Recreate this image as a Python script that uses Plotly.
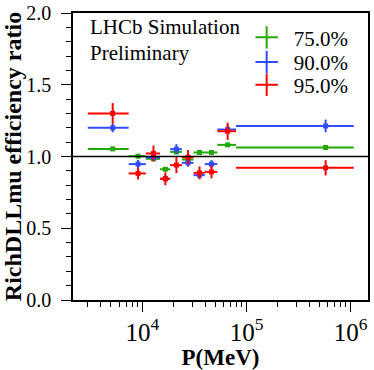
import numpy as np
import plotly.graph_objects as go

# momentum bin edges (MeV)
bin_edges = [3000, 7400, 10800, 14800, 18500, 24000, 31000, 39800, 52500, 79400, 1070000]

labels = ['75.0%', '90.0%', '95.0%']
colors = ['#22a800', '#2f4dff', '#ff0000']

ratio_75 = [1.053, 1.002, 0.984, 0.911, 1.032, 0.979, 1.028, 1.028, 1.081, 1.063]
err_75 = [0.012, 0.012, 0.012, 0.012, 0.012, 0.012, 0.012, 0.012, 0.012, 0.012]
ratio_90 = [1.200, 0.947, 0.993, 0.845, 1.051, 0.956, 0.870, 0.947, 1.188, 1.213]
err_90 = [0.031, 0.030, 0.025, 0.025, 0.035, 0.028, 0.022, 0.028, 0.030, 0.044]
ratio_95 = [1.300, 0.882, 1.021, 0.845, 0.940, 0.995, 0.886, 0.893, 1.176, 0.921]
err_95 = [0.072, 0.042, 0.055, 0.045, 0.055, 0.050, 0.045, 0.045, 0.060, 0.053]

edges = np.array(bin_edges, dtype=float)
centers = (edges[1:] + edges[:-1]) / 2
halfw = (edges[1:] - edges[:-1]) / 2

SERIF = 'Liberation Serif'

fig = go.Figure()

# one small legend per entry so the rows can sit closer than plotly's default spacing
legend_ids = ['legend', 'legend2', 'legend3']
legend_y = [0.914, 0.828, 0.749]

series = [(ratio_75, err_75), (ratio_90, err_90), (ratio_95, err_95)]
for (vals, errs), name, col, lid in zip(series, labels, colors, legend_ids):
    fig.add_trace(go.Scatter(
        x=centers, y=vals, mode='markers', name=name, showlegend=False,
        marker=dict(symbol='square', size=5, color=col),
        error_x=dict(type='data', array=halfw, color=col, thickness=2, width=0),
        error_y=dict(type='data', array=errs, color=col, thickness=2, width=0),
    ))
    # legend entry drawn as a cross like the error bars
    fig.add_trace(go.Scatter(
        x=[None], y=[None], mode='markers', name=name, legend=lid,
        marker=dict(symbol='cross-thin', size=20, line=dict(color=col, width=2)),
    ))

fig.add_shape(type='line', xref='paper', x0=0, x1=1, yref='y', y0=1, y1=1,
              line=dict(color='black', width=1.5))

for txt, ypos in [('LHCb Simulation', 0.951), ('Preliminary', 0.861)]:
    fig.add_annotation(text=txt, xref='paper', yref='paper',
                       x=0.05, y=ypos, xanchor='left', yanchor='middle', showarrow=False,
                       font=dict(family=SERIF, size=21, color='black'))

legend_style = dict(x=0.565, xanchor='left', yanchor='middle', bgcolor='rgba(0,0,0,0)',
                    font=dict(family=SERIF, size=21, color='black'),
                    itemsizing='trace', itemwidth=44)

fig.update_layout(
    width=374, height=370,
    margin=dict(l=73, r=6, t=13, b=70),
    plot_bgcolor='white', paper_bgcolor='white',
    font=dict(family=SERIF, size=20, color='black'),
    legend=dict(y=legend_y[0], **legend_style),
    legend2=dict(y=legend_y[1], **legend_style),
    legend3=dict(y=legend_y[2], **legend_style),
)

fig.update_xaxes(
    type='log', range=[3.335, 6.166], dtick=1, exponentformat='power', automargin=False,
    showexponent='all', showgrid=False, zeroline=False,
    showline=True, linecolor='black', linewidth=1.5, mirror=True,
    ticks='outside', ticklen=10, tickwidth=1, tickcolor='black',
    minor=dict(ticks='outside', ticklen=5, tickwidth=1, tickcolor='black', dtick='D1', showgrid=False),
    title=dict(text='<b>P(MeV)</b>', font=dict(family=SERIF, size=23), standoff=2),
    tickfont=dict(family=SERIF, size=20),
)
fig.update_yaxes(
    range=[0, 2], dtick=0.5, tickformat='.1f', showgrid=False, zeroline=False, automargin=False,
    showline=True, linecolor='black', linewidth=1.5, mirror=True,
    ticks='outside', ticklen=10, tickwidth=1, tickcolor='black', ticklabelstandoff=6,
    minor=dict(ticks='outside', ticklen=5, tickwidth=1, tickcolor='black', dtick=0.1, showgrid=False),
    title=dict(text='<b>RichDLLmu efficiency ratio</b>', font=dict(family=SERIF, size=24), standoff=0),
    tickfont=dict(family=SERIF, size=20),
)

# page body has a default margin; drop it so the figure sits at the corner
fig.write_html('out.html', config={'displayModeBar': False},
               post_script="document.body.style.margin='0';")
